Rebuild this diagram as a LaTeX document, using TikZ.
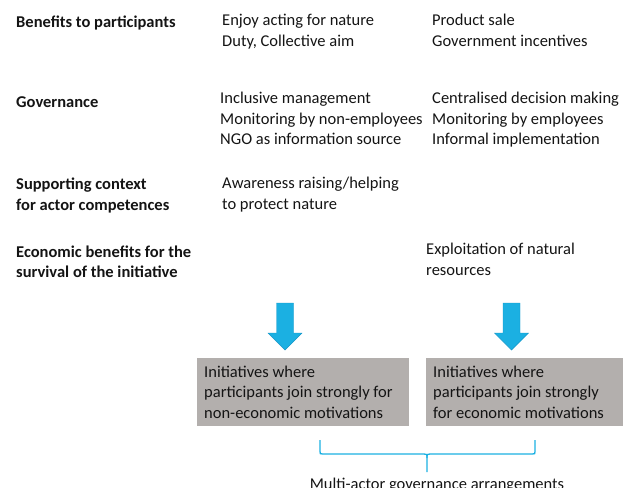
\documentclass[tikz,border=0pt]{standalone}
\usepackage{fontspec}
\setmainfont{Carlito}
\definecolor{arrowblue}{RGB}{27,176,226}
\definecolor{arrowedge}{RGB}{22,150,200}
\definecolor{boxgray}{RGB}{179,175,173}
\definecolor{txtc}{RGB}{20,20,20}
\tikzset{
  txt/.style={anchor=base west, inner sep=0pt, text=txtc, font=\fontsize{16.5bp}{20.5bp}\selectfont},
  hd/.style={txt, font=\fontsize{16.5bp}{20.5bp}\selectfont\bfseries},
  graybox/.style={anchor=north west, fill=boxgray, draw=none, inner sep=0pt, minimum height=68bp},
  bluearrow/.style={fill=arrowblue, draw=arrowedge, line width=0.4bp, line join=miter},
  bracel/.style={draw=arrowblue, line width=1.3bp}
}
\begin{document}
\begin{tikzpicture}[x=1bp,y=-1bp]
\useasboundingbox (0,0) rectangle (635,488);
% row 1
\node[hd] (h1) at (16,28) {Benefits to participants};
\node[txt] (a1) at (222,26) {Enjoy acting for nature};
\node[txt] (a2) at (222,46.5) {Duty, Collective aim};
\node[txt] (b1) at (432,26) {Product sale};
\node[txt] (b2) at (432,46.5) {Government incentives};
% row 2
\node[hd] (h2) at (16,108) {Governance};
\node[txt] (c1) at (220,104) {Inclusive management};
\node[txt] (c2) at (220,124.5) {Monitoring by non-employees};
\node[txt] (c3) at (220,145) {NGO as information source};
\node[txt] (d1) at (432,104) {Centralised decision making};
\node[txt] (d2) at (432,124.5) {Monitoring by employees};
\node[txt] (d3) at (432,145) {Informal implementation};
% row 3
\node[hd] (h3a) at (16,190) {Supporting context};
\node[hd] (h3b) at (16,210.5) {for actor competences};
\node[txt] (e1) at (222,189) {Awareness raising/helping};
\node[txt] (e2) at (222,209.5) {to protect nature};
% row 4
\node[hd] (h4a) at (16,257) {Economic benefits for the};
\node[hd] (h4b) at (16,277.5) {survival of the initiative};
\node[txt] (f1) at (426,254.5) {Exploitation of natural};
\node[txt] (f2) at (426,275) {resources};
% arrows
\draw[bluearrow] (276.5,303) -- (293.5,303) -- (293.5,333) -- (302,333) -- (285,350) -- (268,333) -- (276.5,333) -- cycle;
\draw[bluearrow] (503,303) -- (520,303) -- (520,333) -- (528.5,333) -- (511.5,350) -- (494.5,333) -- (503,333) -- cycle;
% boxes
\node[graybox, minimum width=212bp] (bl) at (197,358) {};
\node[graybox, minimum width=197bp] (br) at (426,358) {};
\node[txt] (bl1) at (204,377) {Initiatives where};
\node[txt] (bl2) at (204,397.5) {participants join strongly for};
\node[txt] (bl3) at (204,418) {non-economic motivations};
\node[txt] (br1) at (433,377) {Initiatives where};
\node[txt] (br2) at (433,397.5) {participants join strongly};
\node[txt] (br3) at (433,418) {for economic motivations};
% brace
\coordinate (bl0) at (320,440);
\coordinate (br0) at (535,440);
\coordinate (tip) at (427,472);
\draw[bracel] (bl0) -- (320,451.5) .. controls (320,454) .. (323,454) -- (424,454) .. controls (427,454) .. (427,458) -- (tip);
\draw[bracel] (br0) -- (535,451.5) .. controls (535,454) .. (532,454) -- (430,454) .. controls (427,454) .. (427,458);
\node[txt, anchor=base] (lab) at (437,489.5) {Multi-actor governance arrangements};
\end{tikzpicture}
\end{document}
